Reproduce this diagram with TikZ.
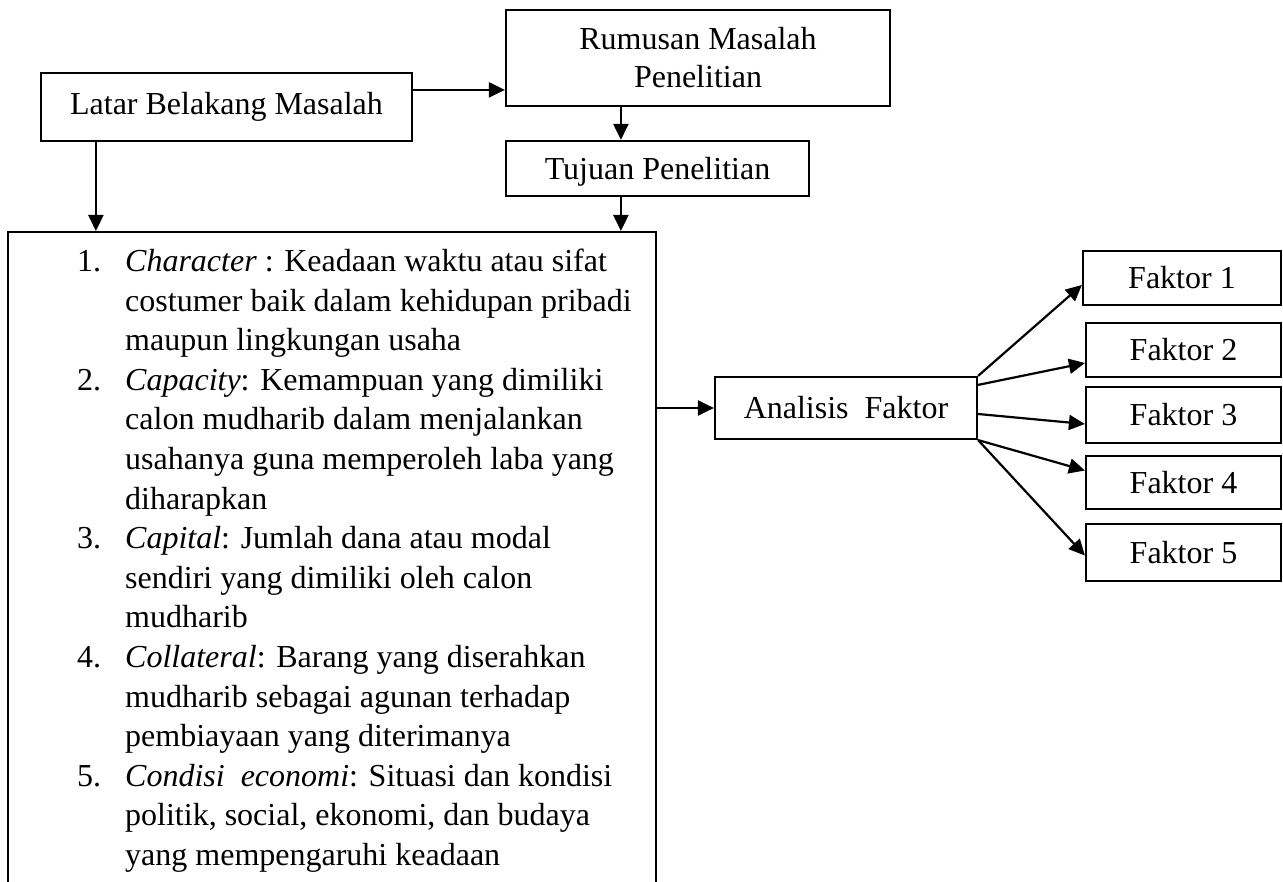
\documentclass[tikz,border=0pt]{standalone}
\usepackage{fontspec}
\setmainfont{Liberation Serif}
\usetikzlibrary{arrows.meta}
\begin{document}
\begin{tikzpicture}[x=1pt,y=-1pt,
  box/.style={draw, line width=2.2pt, inner sep=0pt, align=center, font=\fontsize{32}{38}\selectfont},
  arr/.style={line width=2.2pt, -{Triangle[length=16pt,width=15pt]}},
  txt/.style={anchor=base west, inner sep=0pt, font=\fontsize{32}{38}\selectfont}]
\useasboundingbox (0,0) rectangle (1283,882);

% top boxes
\node[box, minimum width=371pt, minimum height=68pt] (latar) at (226.5,107) {Latar Belakang Masalah};
\node[box, minimum width=384pt, minimum height=96pt] (rumusan) at (698,58) {};
\node[txt, anchor=base] (rum1) at (698,50) {Rumusan Masalah};
\node[txt, anchor=base] (rum2) at (698,88) {Penelitian};
\node[box, minimum width=303pt, minimum height=55pt] (tujuan) at (657.5,168.5) {};
\node[txt, anchor=base] (tuj) at (657.5,180) {Tujuan Penelitian};

% big box (its bottom runs past the page)
\node[draw, line width=2.2pt, inner sep=0pt, minimum width=648pt, minimum height=700pt, anchor=north west] (big) at (7,231) {};

% list text
\foreach \nm/\tx [count=\k from 0] in {
  {1.}/{\textit{Character} : Keadaan waktu atau sifat},
  {}/{costumer baik dalam kehidupan pribadi},
  {}/{maupun lingkungan usaha},
  {2.}/{\textit{Capacity}: Kemampuan yang dimiliki},
  {}/{calon mudharib dalam menjalankan},
  {}/{usahanya guna memperoleh laba yang},
  {}/{diharapkan},
  {3.}/{\textit{Capital}: Jumlah dana atau modal},
  {}/{sendiri yang dimiliki oleh calon},
  {}/{mudharib},
  {4.}/{\textit{Collateral}: Barang yang diserahkan},
  {}/{mudharib sebagai agunan terhadap},
  {}/{pembiayaan yang diterimanya},
  {5.}/{\textit{Condisi\ \ economi}: Situasi dan kondisi},
  {}/{politik, social, ekonomi, dan budaya},
  {}/{yang mempengaruhi keadaan}}
{
  \node[txt] (n\k) at (77, 271.5+\k*39.6) {\nm};
  \node[txt] (t\k) at (125, 271.5+\k*39.6) {\tx};
}

% analysis and factors
\node[box, minimum width=262pt, minimum height=62pt] (anal) at (846,408) {Analisis\ \ Faktor};
\node[box, minimum width=198pt, minimum height=54pt] (f1) at (1182,278) {Faktor 1};
\node[box, minimum width=195pt, minimum height=54pt] (f2) at (1183.5,350) {Faktor 2};
\node[box, minimum width=195pt, minimum height=56pt] (f3) at (1183.5,415) {Faktor 3};
\node[box, minimum width=195pt, minimum height=53pt] (f4) at (1183.5,482.5) {Faktor 4};
\node[box, minimum width=195pt, minimum height=57pt] (f5) at (1183.5,552.5) {Faktor 5};

% connectors
\draw[arr] ([yshift=-18pt]latar.north east) -- ([yshift=-18pt]latar.north east -| rumusan.west);
\draw[arr] ([xshift=116pt]rumusan.south west) -- ([xshift=116pt]rumusan.south west |- tujuan.north);
\draw[arr] ([xshift=56pt]latar.south west) -- ([xshift=56pt]latar.south west |- big.north);
\draw[arr] ([xshift=116pt]tujuan.south west) -- ([xshift=116pt]tujuan.south west |- big.north);
\draw[arr] (big.east |- anal.west) -- (anal.west);

\draw[arr] (anal.north east) -- ([yshift=-7pt]f1.west);
\draw[arr] ([yshift=-9pt]anal.north east) -- ([yshift=-13pt]f2.west);
\draw[arr] ([yshift=-6pt]anal.east) -- ([yshift=-9pt]f3.west);
\draw[arr] (anal.south east) -- ([yshift=12pt]f4.west);
\draw[arr] (anal.south east) -- ([yshift=-3pt]f5.west);
\end{tikzpicture}
\end{document}
